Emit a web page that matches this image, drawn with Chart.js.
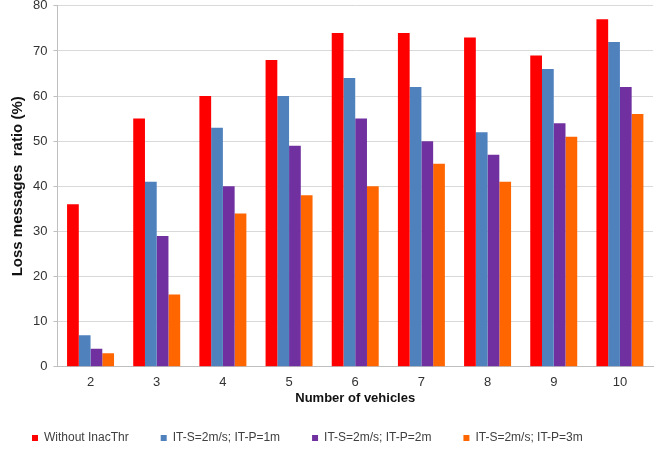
<!DOCTYPE html>
<html>
<head>
<meta charset="utf-8">
<script src="https://cdn.jsdelivr.net/npm/chart.js@4/dist/chart.umd.min.js"></script>
<style>
  html, body { margin: 0; padding: 0; background: #fff; overflow: hidden; }
  #wrap { width: 661px; height: 462px; margin-top: -8px; }
</style>
</head>
<body>
<div id="wrap"><canvas id="chart"></canvas></div>
<script>
const vehicles = ["2", "3", "4", "5", "6", "7", "8", "9", "10"];
const withoutInacThr = [36, 55, 60, 68, 74, 74, 73, 69, 77];
const itP1m = [7, 41, 53, 60, 64, 62, 52, 66, 72];
const itP2m = [4, 29, 40, 49, 55, 50, 47, 54, 62];
const itP3m = [3, 16, 34, 38, 40, 45, 41, 51, 56];

const FONT = "'Liberation Sans', Arial, sans-serif";

new Chart(document.getElementById("chart"), {
    type: "bar",
    data: {
        labels: vehicles,
        datasets: [
            { label: "Without InacThr", data: withoutInacThr, backgroundColor: "#FF0000" },
            { label: "IT-S=2m/s; IT-P=1m", data: itP1m, backgroundColor: "#4F81BD" },
            { label: "IT-S=2m/s; IT-P=2m", data: itP2m, backgroundColor: "#7030A0" },
            { label: "IT-S=2m/s; IT-P=3m", data: itP3m, backgroundColor: "#FF6600" },
        ]
    },
    options: {
        responsive: true,
        maintainAspectRatio: false,
        animation: false,
        categoryPercentage: 0.71,
        barPercentage: 1.0,
        layout: { padding: { left: 0, right: 8, top: 0, bottom: 0 } },
        plugins: {
            legend: {
                position: "bottom",
                align: "start",
                labels: {
                    boxWidth: 6,
                    boxHeight: 6,
                    padding: 32,
                    color: "#404040",
                    font: { family: FONT, size: 12 }
                }
            },
            tooltip: { enabled: false }
        },
        scales: {
            x: {
                grid: { display: false },
                border: { color: "#BFBFBF" },
                ticks: { color: "#333", font: { family: FONT, size: 13 }, padding: 0 },
                title: {
                    display: true,
                    text: "Number of vehicles",
                    color: "#111",
                    font: { family: FONT, size: 13, weight: "bold" },
                    padding: { top: 0, bottom: -6 }
                }
            },
            y: {
                min: 0,
                max: 80,
                ticks: { stepSize: 10, color: "#333", font: { family: FONT, size: 13 }, padding: 6 },
                grid: { color: "#D9D9D9", tickLength: 4, tickColor: "#BFBFBF" },
                border: { display: true, color: "#BFBFBF" },
                title: {
                    display: true,
                    text: "Loss messages  ratio (%)",
                    color: "#111",
                    font: { family: FONT, size: 15, weight: "bold" },
                    padding: { top: 9, bottom: 0 }
                }
            }
        }
    }
});
</script>
</body>
</html>
